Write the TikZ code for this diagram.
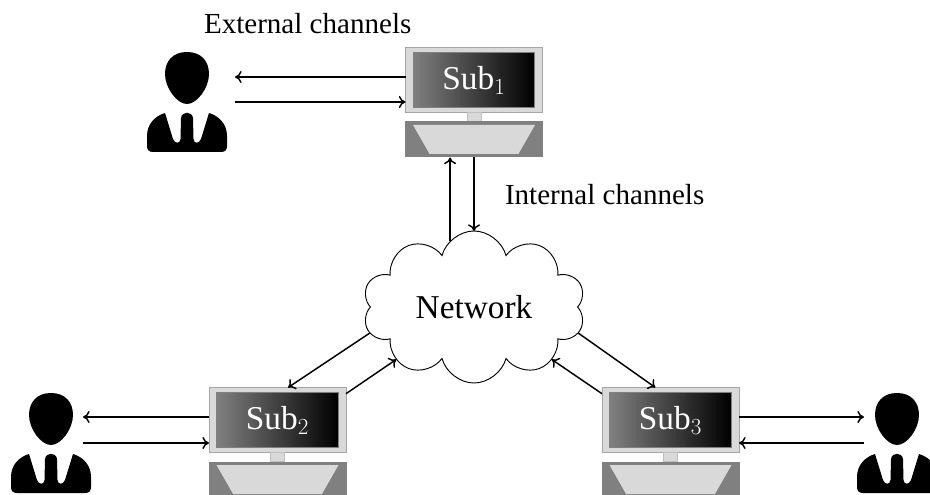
\documentclass[tikz,border=0pt]{standalone}
\usepackage{fontspec}
\setmainfont{Liberation Serif}
\usetikzlibrary{positioning, shapes.geometric, shapes.symbols, arrows.meta}

\tikzset{
  pics/person/.style={code={
    \fill (0,0) .. controls (14,0) and (22,9) .. (22,22)
      .. controls (22,36) and (10,52) .. (0,52)
      .. controls (-10,52) and (-22,36) .. (-22,22)
      .. controls (-22,9) and (-14,0) .. (0,0) -- cycle;
    \fill (-22,61) -- (-14,87) .. controls (-12,92) and (-7,92) .. (-6.5,87)
      -- (-6,66) .. controls (-5,59) and (5,59) .. (6,66)
      -- (6.5,87) .. controls (7,92) and (12,92) .. (14,87)
      -- (22,61) .. controls (32,64) and (40,72) .. (40,84)
      -- (40,94) .. controls (40,98) and (38,100) .. (34,100)
      -- (-34,100) .. controls (-38,100) and (-40,98) .. (-40,94)
      -- (-40,84) .. controls (-40,72) and (-32,64) .. (-22,61) -- cycle;
  }}
}

\begin{document}
\begin{tikzpicture}[
      x=0.75pt, y=-0.75pt,
      every node/.style={inner sep=0pt, outer sep=0pt},
      monitor/.style={draw=gray!70, line width=0.75pt, fill=gray!30, minimum width=102.75pt, minimum height=48.75pt},
      screen/.style={draw=gray, line width=0.75pt, left color=gray, right color=black, text=white, font=\fontsize{25}{28}\selectfont, minimum width=91pt, minimum height=41pt},
      stand/.style={fill=gray!30, draw=gray!50, line width=0.4pt, minimum width=10.5pt, minimum height=6.75pt},
      base/.style={fill=gray, minimum width=103.5pt, minimum height=27pt},
      tray/.style={trapezium, trapezium stretches=true, trapezium angle=78.5, shape border rotate=180, fill=gray!30, minimum width=91.5pt, minimum height=21.75pt},
      channel/.style={-{To[length=5pt,width=9pt]}, line width=1.1pt},
      caption/.style={font=\fontsize{21.8}{26}\selectfont, anchor=west}
  ]

  \useasboundingbox (0,0) rectangle (930,495);

  \node [cloud, cloud puffs=10, cloud puff arc=150, aspect=2, draw, line width=0.7pt, minimum width=167pt, minimum height=114pt, font=\fontsize{25}{28}\selectfont] (Network) at (474,307) {Network};

  % top station
  \node [monitor] (Sub1) at (474,80) {};
  \node [screen] (Screen1) at (Sub1) {Sub$_1$};
  \node [stand, below=0pt of Sub1] (Stand1) {};
  \node [base, below=0pt of Stand1] (Base1) {};
  \node [tray] (Tray1) at (Base1) {\phantom{x}};

  % left station
  \node [monitor] (Sub2) at (277.5,420) {};
  \node [screen] (Screen2) at (Sub2) {Sub$_2$};
  \node [stand, below=0pt of Sub2] (Stand2) {};
  \node [base, below=0pt of Stand2] (Base2) {};
  \node [tray] (Tray2) at (Base2) {\phantom{x}};

  % right station
  \node [monitor] (Sub3) at (670.5,420) {};
  \node [screen] (Screen3) at (Sub3) {Sub$_3$};
  \node [stand, below=0pt of Sub3] (Stand3) {};
  \node [base, below=0pt of Stand3] (Base3) {};
  \node [tray] (Tray3) at (Base3) {\phantom{x}};

  \pic at (187,52) {person};
  \pic at (51,393) {person};
  \pic at (897,393) {person};

  \coordinate (User1out) at (235,77);
  \coordinate (User1in) at (235,102);
  \coordinate (User2out) at (83,417);
  \coordinate (User2in) at (83,443);
  \coordinate (User3out) at (864,417);
  \coordinate (User3in) at (864,443);

  \draw [channel] (Sub1.west |- User1out) -- (User1out);
  \draw [channel] (User1in) -- (Sub1.west |- User1in);
  \draw [channel] (Sub2.west |- User2out) -- (User2out);
  \draw [channel] (User2in) -- (Sub2.west |- User2in);
  \draw [channel] (Sub3.east |- User3out) -- (User3out);
  \draw [channel] (User3in) -- (Sub3.east |- User3in);

  \draw [channel] (Network.110) -- (Network.110 |- Base1.south);
  \draw [channel] (Network.90 |- Base1.south) -- (Network.90);
  \draw [channel] (Network.194) -- (Sub2.72);
  \draw [channel] (Sub2.21) -- (Network.214);
  \draw [channel] (Network.346) -- (Sub3.115);
  \draw [channel] (Sub3.159) -- (Network.326);

  \node [caption] (External) at (204,24) {External channels};
  \node [caption] (Internal) at (505,195) {Internal channels};

\end{tikzpicture}
\end{document}
